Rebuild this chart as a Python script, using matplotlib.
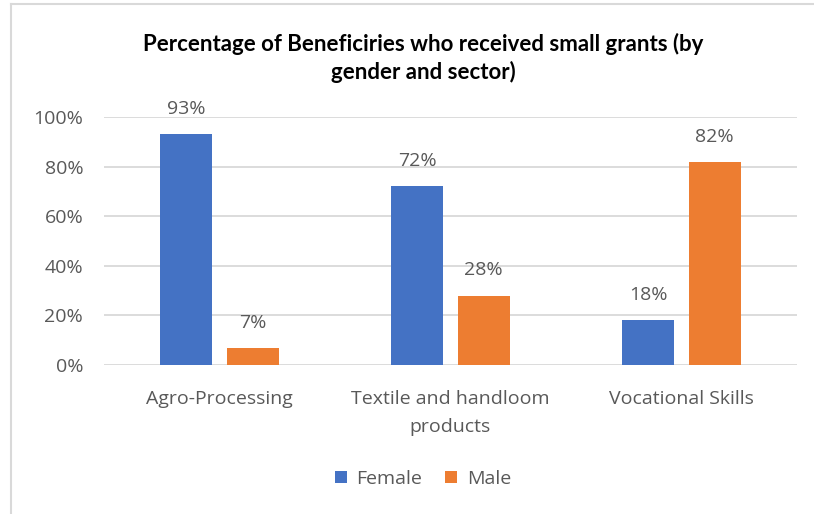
import matplotlib.pyplot as plt
import numpy as np

sectors = ['Agro-Processing', 'Textile and handloom\nproducts', 'Vocational Skills']
female = [93, 72, 18]
male = [7, 28, 82]
yticks = [0, 20, 40, 60, 80, 100]

plt.rcParams['font.family'] = ['Open Sans', 'DejaVu Sans']
grey = '#595959'

fig = plt.figure(figsize=(8.14, 5.14), dpi=100)
ax = fig.add_axes([104 / 814, 1 - 365 / 514, 693 / 814, 248 / 514])

x = np.arange(len(sectors))
w = 0.225
off = 0.143
b1 = ax.bar(x - off, female, w, color='#4472C4', label='Female', zorder=3)
b2 = ax.bar(x + off, male, w, color='#ED7D31', label='Male', zorder=3)

# value labels above each bar
for bars, vals in ((b1, female), (b2, male)):
    for rect, v in zip(bars, vals):
        ax.annotate(f'{v}%', (rect.get_x() + rect.get_width() / 2, v),
                    xytext=(0, 14.5), textcoords='offset points',
                    ha='center', va='baseline', fontsize=14, color=grey)

ax.set_xlim(-0.5, 2.5)
ax.set_ylim(0, 100)
ax.set_yticks(yticks)
ax.set_yticklabels([f'{t}%' for t in yticks], fontsize=14, color=grey)
ax.set_xticks(x)
ax.set_xticklabels(sectors, fontsize=14, color=grey, linespacing=1.75)
ax.tick_params(length=0)
ax.tick_params(axis='y', pad=15)
ax.tick_params(axis='x', pad=18)
ax.grid(axis='y', color='#D9D9D9', linewidth=1.3, zorder=0)
for s in ax.spines.values():
    s.set_visible(False)

title_kw = dict(ha='center', va='center', fontsize=16, fontweight='bold',
                color='black', family=['Lato', 'DejaVu Sans'])
fig.text(423 / 814, 1 - 44 / 514, 'Percentage of Beneficiries who received small grants (by', **title_kw)
fig.text(423 / 814, 1 - 72 / 514, 'gender and sector)', **title_kw)

fig.legend(handles=[b1, b2], loc='center', bbox_to_anchor=(423 / 814, 1 - 479 / 514),
           ncol=2, frameon=False, fontsize=14, handlelength=0.6, handleheight=0.6,
           handletextpad=0.5, columnspacing=1.2, labelcolor=grey)

# chart border along the top and left edges
fig.add_artist(plt.Line2D([10.5 / 814, 10.5 / 814], [0, 1 - 4 / 514], color='#D9D9D9', linewidth=1.5))
fig.add_artist(plt.Line2D([10.5 / 814, 1], [1 - 4 / 514, 1 - 4 / 514], color='#D9D9D9', linewidth=1.5))

fig.savefig('out.png', dpi=100)
